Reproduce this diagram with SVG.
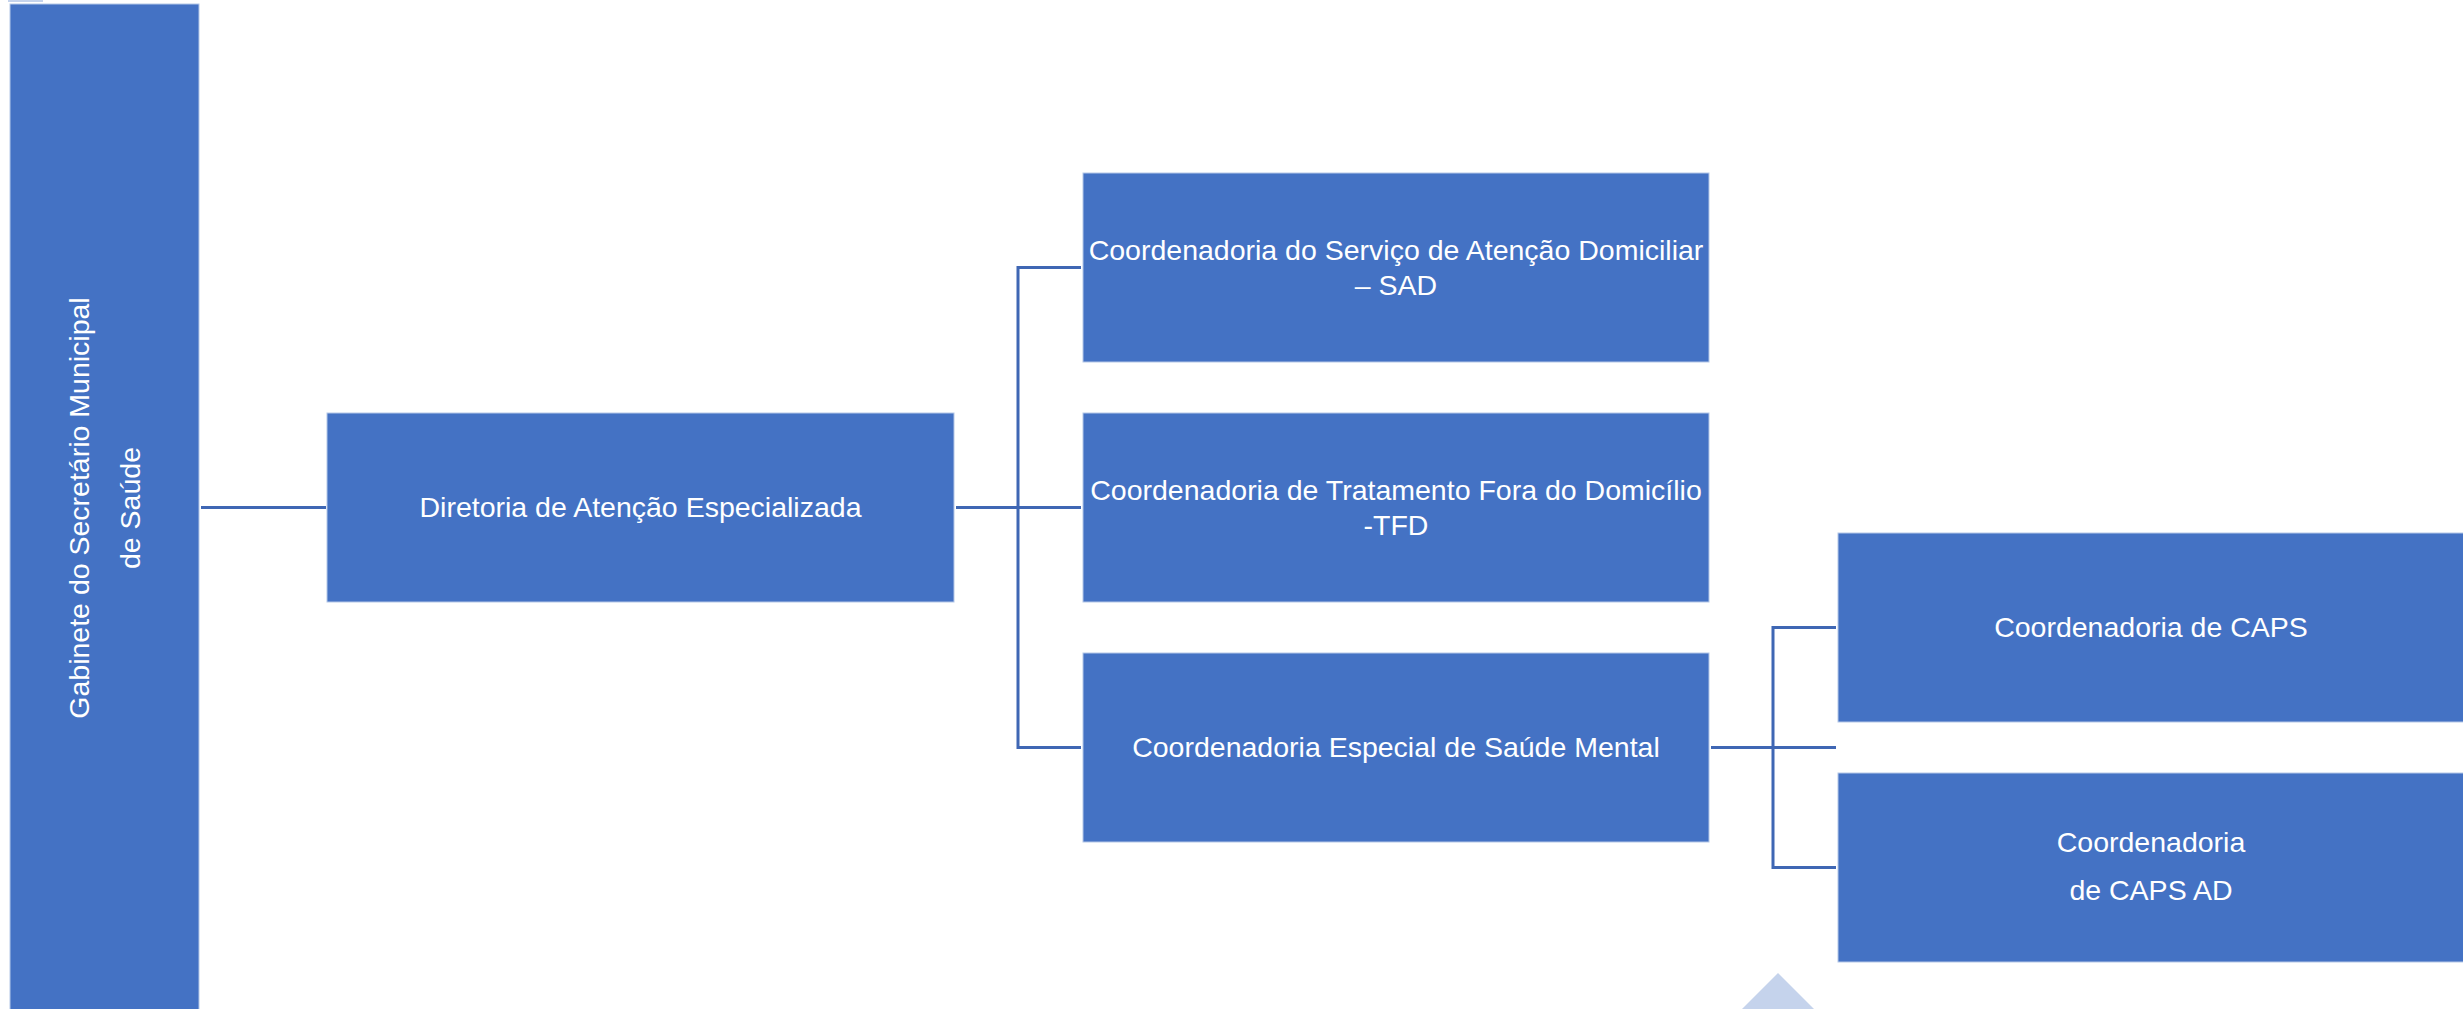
<svg xmlns="http://www.w3.org/2000/svg" width="2463" height="1009" viewBox="0 0 2463 1009">
<style>
.box{fill:#4472C4;stroke:#B4C7E7;stroke-width:1}
.lbl{font-family:"Liberation Sans",Arial,sans-serif;font-size:28.5px;fill:#FFFFFF;text-anchor:middle}
.conn{fill:none;stroke:#3F67B4;stroke-width:3}
</style>
<rect x="0" y="0" width="2463" height="1009" fill="#FFFFFF"/>
<rect x="8" y="0" width="35" height="2" fill="#C5D3EC"/>
<g id="connectors">
<path class="conn" d="M201,507.5 H326"/>
<path class="conn" d="M956,507.5 H1081"/>
<path class="conn" d="M1081,267.5 H1018 V747.5 H1081"/>
<path class="conn" d="M1711,747.5 H1836"/>
<path class="conn" d="M1836,627.5 H1773 V867.5 H1836"/>
</g>
<g id="gabinete">
<rect class="box" x="10" y="4" width="189" height="1010"/>
<text class="lbl" transform="translate(89,508) rotate(-90)"><tspan x="0" y="0">Gabinete do Secretário Municipal</tspan><tspan x="0" y="51">de Saúde</tspan></text>
</g>
<g id="diretoria">
<rect class="box" x="327" y="413" width="627" height="189"/>
<text class="lbl" x="640.5" y="517">Diretoria de Atenção Especializada</text>
</g>
<g id="sad">
<rect class="box" x="1083" y="173" width="626" height="189"/>
<text class="lbl"><tspan x="1396" y="260">Coordenadoria do Serviço de Atenção Domiciliar</tspan><tspan x="1396" y="295">– SAD</tspan></text>
</g>
<g id="tfd">
<rect class="box" x="1083" y="413" width="626" height="189"/>
<text class="lbl"><tspan x="1396" y="500">Coordenadoria de Tratamento Fora do Domicílio</tspan><tspan x="1396" y="535">-TFD</tspan></text>
</g>
<g id="mental">
<rect class="box" x="1083" y="653" width="626" height="189"/>
<text class="lbl" x="1396" y="757">Coordenadoria Especial de Saúde Mental</text>
</g>
<g id="caps">
<rect class="box" x="1838" y="533" width="626" height="189"/>
<text class="lbl" x="2151" y="637">Coordenadoria de CAPS</text>
</g>
<g id="capsad">
<rect class="box" x="1838" y="773" width="626" height="189"/>
<text class="lbl"><tspan x="2151" y="852">Coordenadoria</tspan><tspan x="2151" y="900">de CAPS AD</tspan></text>
</g>
<polygon points="1778,973 1741,1010 1815,1010" fill="#C5D3EC"/>
</svg>
